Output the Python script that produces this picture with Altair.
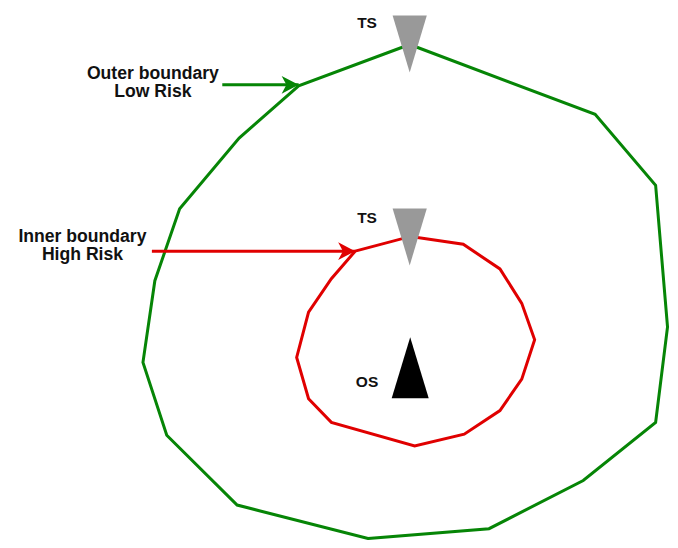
import altair as alt
import pandas as pd

# Boundary polygons (drawing units, y grows downward), closed rings
outer_x = [412, 599, 660, 672, 660, 587, 492, 370, 238, 167, 143, 155, 180, 240, 300, 412]
outer_y = [45, 116, 188, 332, 429, 488, 537, 547, 513, 442, 368, 285, 212, 140, 87, 45]
inner_x = [357, 413, 466, 503, 525, 538, 525, 503, 467, 417, 333, 310, 298, 310, 333, 357]
inner_y = [255, 240, 248, 273, 308, 345, 385, 417, 441, 453, 429, 405, 363, 317, 283, 255]

# Ships
ts_x = [412, 412]
ts_y = [44.5, 240.5]
os_x = [412.5]
os_y = [373.5]

# Ship labels
ship_text = ["TS", "TS", "OS"]
ship_x = [369, 369, 369]
ship_y = [28, 226, 393]

# Boundary labels (two lines each)
bl_text = ["Outer boundary\nLow Risk", "Inner boundary\nHigh Risk"]
bl_x = [153, 82]
bl_y = [80, 246]

# Arrows
arrow_ring = ["outer", "inner"]
arrow_x0 = [223, 152]
arrow_x1 = [300, 357]
arrow_y = [86, 255]

GREEN = "#068506"
RED = "#e00000"

xs = alt.Scale(domain=[6.9, 674.5], nice=False, zero=False)
ys = alt.Scale(domain=[7.9, 548.5], nice=False, zero=False, reverse=True)
cs = alt.Scale(domain=["outer", "inner"], range=[GREEN, RED])

def X(f):
    return alt.X(f, type="quantitative", scale=xs, axis=None)

def Y(f):
    return alt.Y(f, type="quantitative", scale=ys, axis=None)

poly = pd.concat([
    pd.DataFrame({"x": outer_x, "y": outer_y, "i": range(len(outer_x)), "ring": "outer"}),
    pd.DataFrame({"x": inner_x, "y": inner_y, "i": range(len(inner_x)), "ring": "inner"}),
])

lines = alt.Chart(poly).mark_line(strokeWidth=3, strokeJoin="miter").encode(
    x=X("x"), y=Y("y"), order=alt.Order("i:Q"), detail="ring:N",
    color=alt.Color("ring:N", scale=cs, legend=None),
)

arr = pd.DataFrame({"ring": arrow_ring, "x0": arrow_x0, "x1": arrow_x1, "y": arrow_y})
shafts = alt.Chart(arr).mark_rule(strokeWidth=3).encode(
    x=X("x0"), x2="x1", y=Y("y"),
    color=alt.Color("ring:N", scale=cs, legend=None),
)
heads = alt.Chart(arr).mark_point(
    shape="M 0 0 L -1 -0.52 L -0.72 0 L -1 0.52 Z", size=1156,
    filled=True, opacity=1, strokeWidth=0,
).encode(
    x=X("x1"), y=Y("y"),
    color=alt.Color("ring:N", scale=cs, legend=None),
)

ts = alt.Chart(pd.DataFrame({"x": ts_x, "y": ts_y})).mark_point(
    shape="M -0.6 -1 L 0.6 -1 L 0 1 Z", size=3249,
    filled=True, opacity=1, strokeWidth=0, color="#999999",
).encode(x=X("x"), y=Y("y"))

os_ = alt.Chart(pd.DataFrame({"x": os_x, "y": os_y})).mark_point(
    shape="M 0 -1 L 0.607 1 L -0.607 1 Z", size=3721,
    filled=True, opacity=1, strokeWidth=0, color="#000000",
).encode(x=X("x"), y=Y("y"))

ship_labels = alt.Chart(pd.DataFrame({"t": ship_text, "x": ship_x, "y": ship_y})).mark_text(
    font="Liberation Sans", fontWeight="bold", fontSize=15.5,
    align="center", baseline="alphabetic", color="#111111",
).encode(x=X("x"), y=Y("y"), text="t:N")

bound_labels = alt.Chart(pd.DataFrame({"t": bl_text, "x": bl_x, "y": bl_y})).mark_text(
    font="Liberation Sans", fontWeight="bold", fontSize=17.6,
    align="center", baseline="alphabetic", color="#111111",
    lineBreak="\n", lineHeight=18,
).encode(x=X("x"), y=Y("y"), text="t:N")

chart = alt.layer(
    lines, shafts, heads, ts, os_, ship_labels, bound_labels
).properties(
    width=662, height=532, padding=0,
    autosize=alt.AutoSizeParams(type="none"),
    background="white",
).configure_view(stroke=None)

chart.save("out.html", embed_options={"renderer": "svg", "actions": False})
